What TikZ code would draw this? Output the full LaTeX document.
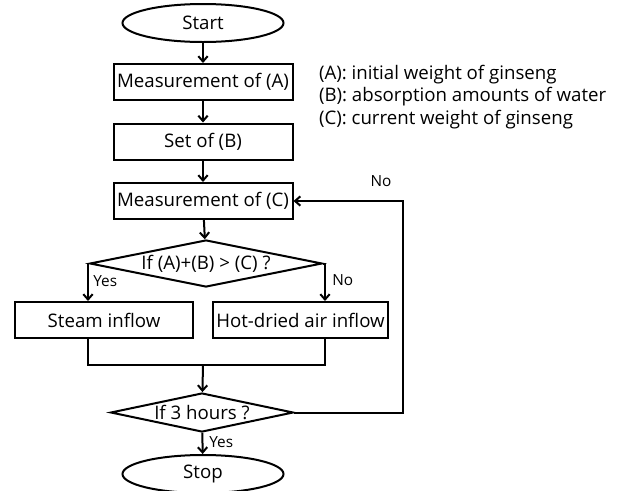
\documentclass[tikz,border=0pt]{standalone}
\usepackage{fontspec}
\setmainfont{Open Sans}
\usetikzlibrary{shapes.geometric,arrows.meta}

\begin{document}
\begin{tikzpicture}[x=0.75pt,y=-0.75pt,line width=1.5pt,
  >={Straight Barb[length=4pt,width=7pt,line width=1.5pt]},
  every node/.style={font=\fontsize{14}{17}\selectfont},
  box/.style={draw,rectangle,inner sep=0pt,minimum height=27pt},
  term/.style={draw,ellipse,inner sep=0pt,minimum width=120.75pt,minimum height=28.5pt},
  test/.style={draw,diamond,inner sep=0pt,aspect=6},
  lab/.style={font=\fontsize{11.5}{13}\selectfont,inner sep=1pt}]
\useasboundingbox (0,0) rectangle (618,490);
\node[term] (start) at (203,23) {Start};
\node[box,minimum width=134.25pt] (mA) at (203,82) {Measurement of (A)};
\node[box,minimum width=134.25pt] (setB) at (203,141.5) {Set of (B)};
\node[box,minimum width=134.25pt] (mC) at (203,201) {Measurement of (C)};
\node[test,minimum width=159pt,minimum height=35.25pt] (cmp) at (206,263.5) {If (A)+(B) > (C) ?};
\node[box,minimum width=133.5pt] (steam) at (104,320) {Steam inflow};
\node[box,minimum width=131.25pt] (hot) at (300.5,320) {Hot-dried air inflow};
\node[test,minimum width=132.75pt,minimum height=29.25pt] (chk) at (202,412.5) {If 3 hours ?};
\node[term] (stop) at (203,474) {Stop};

\node[anchor=west,align=left,inner sep=0pt] (legend) at (318,97)
  {(A): initial weight of ginseng\\(B): absorption amounts of water\\(C): current weight of ginseng};

\coordinate (yesturn) at (88,263.5);
\coordinate (noturn) at (325,263.5);
\coordinate (join) at (203,365);
\coordinate (loopdown) at (403,412.5);
\coordinate (loopup) at (403,201);

\draw[->] (start) -- (mA);
\draw[->] (mA) -- (setB);
\draw[->] (setB) -- (mC);
\draw[->] (mC) -- (cmp);
\draw[->] (cmp.west) -- (yesturn) -- (yesturn |- steam.north);
\draw[->] (cmp.east) -- (noturn) -- (noturn |- hot.north);
\draw (yesturn |- steam.south) -- (yesturn |- join) -- (noturn |- join) -- (noturn |- hot.south);
\draw[->] (join) -- (chk);
\draw[->] (chk.east) -- (loopdown) -- (loopup) -- (mC.east);
\draw[->] (chk) -- (stop);

\node[lab,anchor=west] (yes1) at (91,281) {Yes};
\node[lab,anchor=west] (no1) at (330,280) {No};
\node[lab,anchor=west] (yes2) at (207,442) {Yes};
\node[lab] (no2) at (381,181) {No};
\end{tikzpicture}
\end{document}
